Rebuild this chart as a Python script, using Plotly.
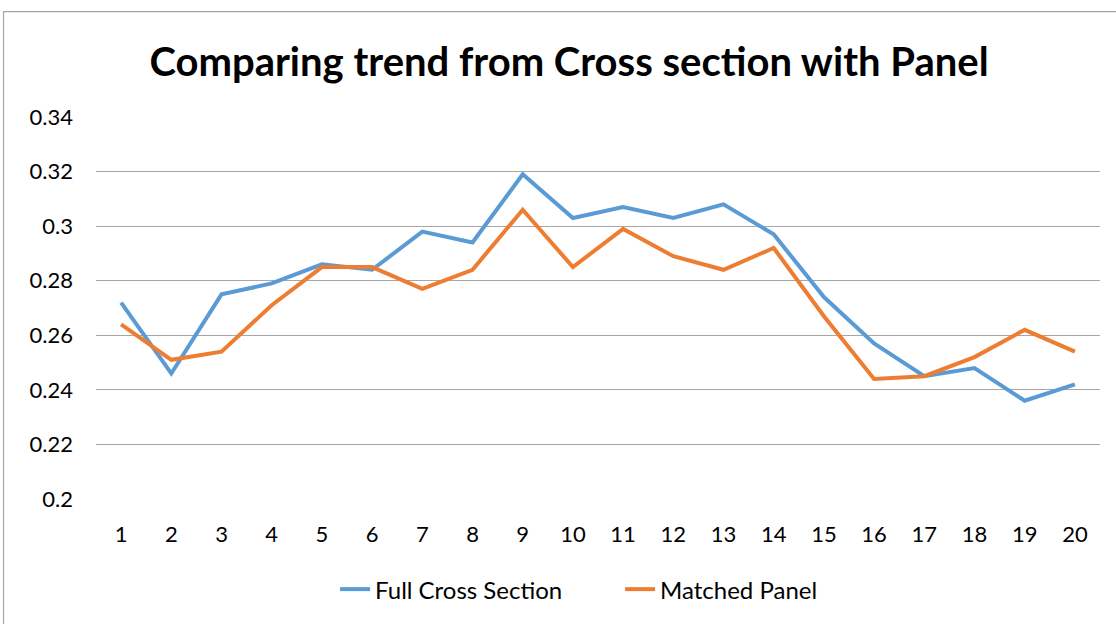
import plotly.graph_objects as go

periods = list(range(1, 21))
full_cross_section = [0.272, 0.246, 0.275, 0.279, 0.286, 0.284, 0.298, 0.294, 0.319, 0.303,
                      0.307, 0.303, 0.308, 0.297, 0.274, 0.257, 0.245, 0.248, 0.236, 0.242]
matched_panel = [0.264, 0.251, 0.254, 0.271, 0.285, 0.285, 0.277, 0.284, 0.306, 0.285,
                 0.299, 0.289, 0.284, 0.292, 0.267, 0.244, 0.245, 0.252, 0.262, 0.254]
y_ticks = [0.2, 0.22, 0.24, 0.26, 0.28, 0.3, 0.32, 0.34]
y_tick_labels = ["0.2", "0.22", "0.24", "0.26", "0.28", "0.3", "0.32", "0.34"]

FONT = "Lato"

fig = go.Figure()
fig.add_trace(go.Scatter(x=periods, y=full_cross_section, mode="lines",
                         name="Full Cross Section",
                         line=dict(color="#5B9BD5", width=4)))
fig.add_trace(go.Scatter(x=periods, y=matched_panel, mode="lines",
                         name="Matched Panel",
                         line=dict(color="#ED7D31", width=4)))

fig.update_layout(
    width=1116, height=624,
    margin=dict(l=96, r=16, t=117, b=125, autoexpand=False),
    paper_bgcolor="white", plot_bgcolor="white",
    font=dict(family=FONT, size=22, color="black"),
    title=dict(text="<b>Comparing trend from Cross section with Panel</b>",
               font=dict(family=FONT, size=40, color="black"),
               x=569 / 1116, xanchor="center", xref="container",
               y=1 - 62 / 624, yanchor="middle", yref="container"),
    showlegend=True,
    legend=dict(orientation="h", x=0.522, xref="paper", xanchor="center",
                y=-0.237, yref="paper", yanchor="middle",
                font=dict(family=FONT, size=24),
                entrywidth=240, tracegroupgap=0),
    xaxis=dict(range=[0.5, 20.5], tickmode="array", tickvals=periods,
               ticktext=[str(p) for p in periods], showgrid=False, zeroline=False,
               showline=False, ticks="", ticklabelstandoff=20, tickangle=0,
               fixedrange=True),
    yaxis=dict(range=[0.2, 0.34], tickmode="array", tickvals=y_ticks,
               ticktext=y_tick_labels, showgrid=True, gridcolor="#A6A6A6",
               gridwidth=1.2, zeroline=False, showline=False, ticks="",
               ticklabelstandoff=22, fixedrange=True),
    shapes=[dict(type="rect", xref="paper", yref="paper",
                 x0=-0.0921, x1=1.05, y0=-0.4, y1=1.276,
                 line=dict(color="#A6A6A6", width=1.2), fillcolor="rgba(0,0,0,0)",
                 layer="below")],
)

fig.write_html("out.html", config={"displayModeBar": False},
               post_script="document.body.style.margin='0';document.body.style.padding='0';")
